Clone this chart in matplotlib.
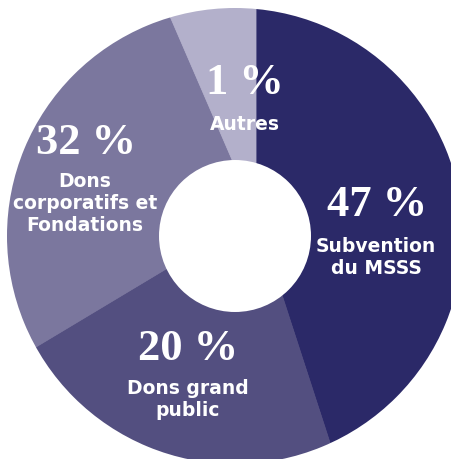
import matplotlib
matplotlib.use("Agg")
import matplotlib.pyplot as plt
from matplotlib.patches import Circle, Wedge

# categories in clockwise order, starting at 12 o'clock
labels = ["Subvention\ndu MSSS", "Dons grand\npublic", "Dons\ncorporatifs et\nFondations", "Autres"]
percents = ["47 %", "20 %", "32 %", "1 %"]
# arc sizes as drawn in the picture (the artwork does not follow the printed %)
arc_share = [45.0, 21.4, 27.1, 6.5]
colors = ["#2b2968", "#534f80", "#7b779e", "#b3b0cb"]

W, H = 451, 460
fig = plt.figure(figsize=(W / 100, H / 100), dpi=100)
ax = fig.add_axes([0, 0, 1, 1])

# outer ring and hole share one centre, the slice edges meet a bit off it
R, r_hole = 228, 76
cx, cy = 235, H - 237
pie_c = (256, H - 216)

wedges, _ = ax.pie(arc_share, colors=colors, startangle=90, counterclock=False,
                   radius=320, center=pie_c, wedgeprops=dict(linewidth=0))
for w, c in zip(wedges, colors):
    w.set_edgecolor(c)
    w.set_linewidth(0.6)

# white mask outside the ring, and the hole
ax.add_patch(Wedge((cx, cy), 900, 0, 360, width=900 - R,
                   facecolor="white", edgecolor="none", zorder=3))
ax.add_patch(Circle((cx, cy), r_hole, facecolor="white", edgecolor="none", zorder=3))

ax.set_xlim(0, W)
ax.set_ylim(0, H)
ax.set_aspect("equal")
ax.axis("off")

# label positions (pixel coords, y from top)
pct_pos = [(377, 205), (188, 349), (86, 143), (245, 83)]
lab_pos = [(376, 258), (188, 400), (85, 204), (245, 124)]

for (px, py), t in zip(pct_pos, percents):
    ax.text(px, H - py, t, ha="center", va="center", color="white",
            fontsize=32, family="Liberation Serif", fontweight="bold", zorder=4)

for (lx, ly), t in zip(lab_pos, labels):
    ax.text(lx, H - ly, t, ha="center", va="center", color="white",
            fontsize=13.5, fontweight="bold", family="DejaVu Sans",
            linespacing=1.2, zorder=4)

fig.savefig("out.png", dpi=100)
